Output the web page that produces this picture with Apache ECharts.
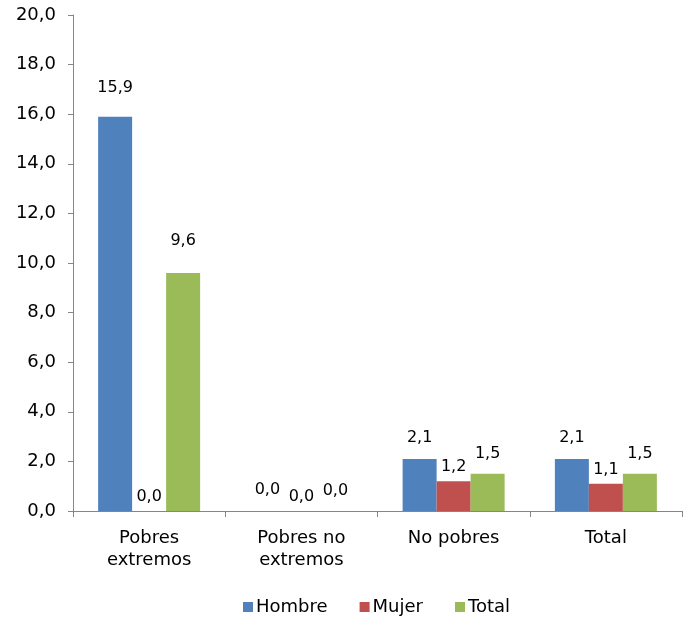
<!DOCTYPE html>
<html>
<head>
<meta charset="utf-8">
<script src="https://cdn.jsdelivr.net/npm/echarts@6/dist/echarts.min.js"></script>
<style>
html,body{margin:0;padding:0;background:#fff;}
#chart{width:692px;height:619px;}
</style>
</head>
<body>
<div id="chart"></div>
<script>
var categories = ['Pobres\nextremos', 'Pobres no\nextremos', 'No pobres', 'Total'];
var seriesNames = ['Hombre', 'Mujer', 'Total'];
var hombre = [15.9, 0.0, 2.1, 2.1];
var mujer = [0.0, 0.0, 1.2, 1.1];
var total = [9.6, 0.0, 1.5, 1.5];
var colors = ['#4F81BD', '#C0504D', '#9BBB59'];

var FONT = '"DejaVu Sans", Verdana, sans-serif';
function fmt(v) { return v.toFixed(1).replace('.', ','); }

var values = [hombre, mujer, total];
var baseDist = [13, 6, 12];
var series = seriesNames.map(function (name, i) {
  return {
    name: name,
    type: 'bar',
    data: values[i].map(function (v) {
      var d = baseDist[i] + (v > 5 ? (v > 12 ? 8 : 12) : 0);
      return { value: v, label: { distance: d } };
    }),
    barGap: '0%',
    barCategoryGap: '33%',
    itemStyle: { color: colors[i] },
    label: {
      show: true,
      position: 'top',
      color: '#000',
      fontFamily: FONT,
      fontSize: 16,
      formatter: function (p) { return fmt(p.value); }
    }
  };
});

var chart = echarts.init(document.getElementById('chart'), null, { renderer: 'canvas' });
chart.setOption({
  animation: false,
  color: colors,
  grid: { left: 73, right: 10, top: 15, bottom: 108, containLabel: false },
  legend: {
    left: 238,
    top: 593,
    itemWidth: 10,
    itemHeight: 10,
    itemGap: 32,
    icon: 'rect',
    textStyle: { fontFamily: FONT, fontSize: 18, color: '#000', padding: [0, 0, 0, -2] },
    data: seriesNames
  },
  xAxis: {
    type: 'category',
    data: categories,
    axisLine: { lineStyle: { color: '#868686', width: 1 } },
    axisTick: { show: true, length: 6, lineStyle: { color: '#868686' } },
    axisLabel: { fontFamily: FONT, fontSize: 18, color: '#000', margin: 16, lineHeight: 22 }
  },
  yAxis: {
    type: 'value',
    min: 0,
    max: 20,
    interval: 2,
    axisLine: { show: true, lineStyle: { color: '#868686', width: 1 } },
    axisTick: { show: true, length: 5, lineStyle: { color: '#868686' } },
    splitLine: { show: false },
    axisLabel: { fontFamily: FONT, fontSize: 18, color: '#000', margin: 17, formatter: function (v) { return fmt(v); } }
  },
  series: series
});
</script>
</body>
</html>
